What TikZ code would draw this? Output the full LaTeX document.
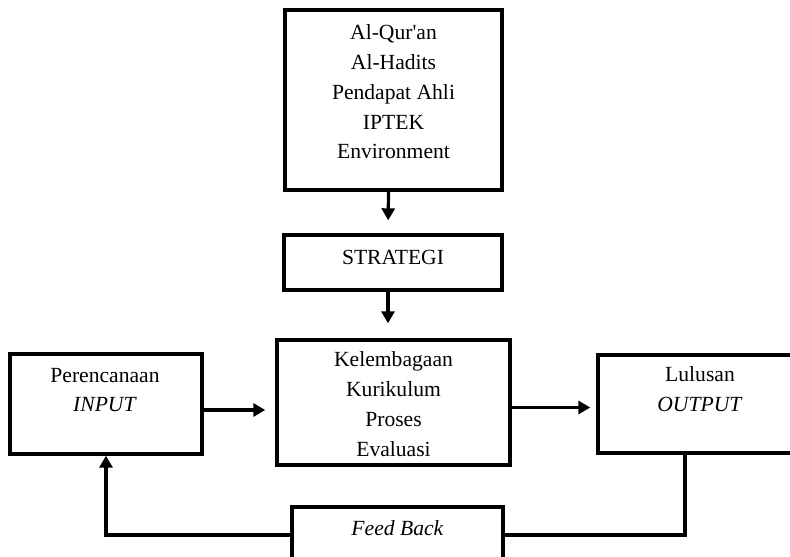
\documentclass[tikz,border=0pt]{standalone}
\usepackage{fontspec}
\setmainfont{Liberation Serif}
\usetikzlibrary{arrows.meta,calc}
\begin{document}
\begin{tikzpicture}[x=1pt,y=-1pt,
  box/.style={draw,line width=3.4pt,rectangle,inner sep=0pt},
  txt/.style={align=center,inner sep=0pt,font=\fontsize{21.6}{29.8}\selectfont},
  conn/.style={line width=3.2pt},
  arr/.style={line width=3.2pt,-{Triangle[length=12pt,width=13pt]}}]
\useasboundingbox (0,0) rectangle (790,557);
\clip (0,0) rectangle (790,557);
% boxes
\node[box,minimum width=217pt,minimum height=180pt] (src) at (393.5,100) {};
\node[box,minimum width=218pt,minimum height=55pt] (strat) at (393,262.5) {};
\node[box,minimum width=233pt,minimum height=125pt] (mid) at (393.5,402.5) {};
\node[box,minimum width=192pt,minimum height=100pt] (in) at (106,404) {};
\node[box,minimum width=204pt,minimum height=98pt] (out) at (700,404) {};
\node[box,minimum width=211pt,minimum height=80pt] (fb) at (397.5,547) {};
% texts
\node[txt] (srct) at (393.5,92) {Al-Qur\textquotesingle an\\Al-Hadits\\Pendapat Ahli\\IPTEK\\Environment};
\node[txt] (stratt) at (393,257) {STRATEGI};
\node[txt] (midt) at (393.5,404) {Kelembagaan\\Kurikulum\\Proses\\Evaluasi};
\node[txt] (int) at (105,390) {Perencanaan\\\textit{INPUT}};
\node[txt] (outt) at (700,389) {Lulusan\\\textit{OUTPUT}};
\node[txt] (fbt) at (397.5,528) {\textit{Feed Back}};
% connectors
\draw[arr,shorten >=13pt] ([xshift=-5pt]src.south) -- ([xshift=-5pt]strat.north);
\draw[arr,shorten >=15pt] ([xshift=-5pt]strat.south) -- ([xshift=-5pt]strat.south |- mid.north);
\draw[arr,shorten >=10pt] ([yshift=-6pt]in.east) -- ([yshift=-6pt]in.east -| mid.west);
\draw[arr,shorten >=6pt] ([yshift=-5pt]mid.east) -- ([yshift=-5pt]mid.east -| out.west);
\coordinate (fr) at (685,535);
\draw[conn] (out.south -| fr) -- (fr) -- (fr -| fb.east);
\draw[arr] (fb.west |- fr) -| (in.south);
\end{tikzpicture}
\end{document}
